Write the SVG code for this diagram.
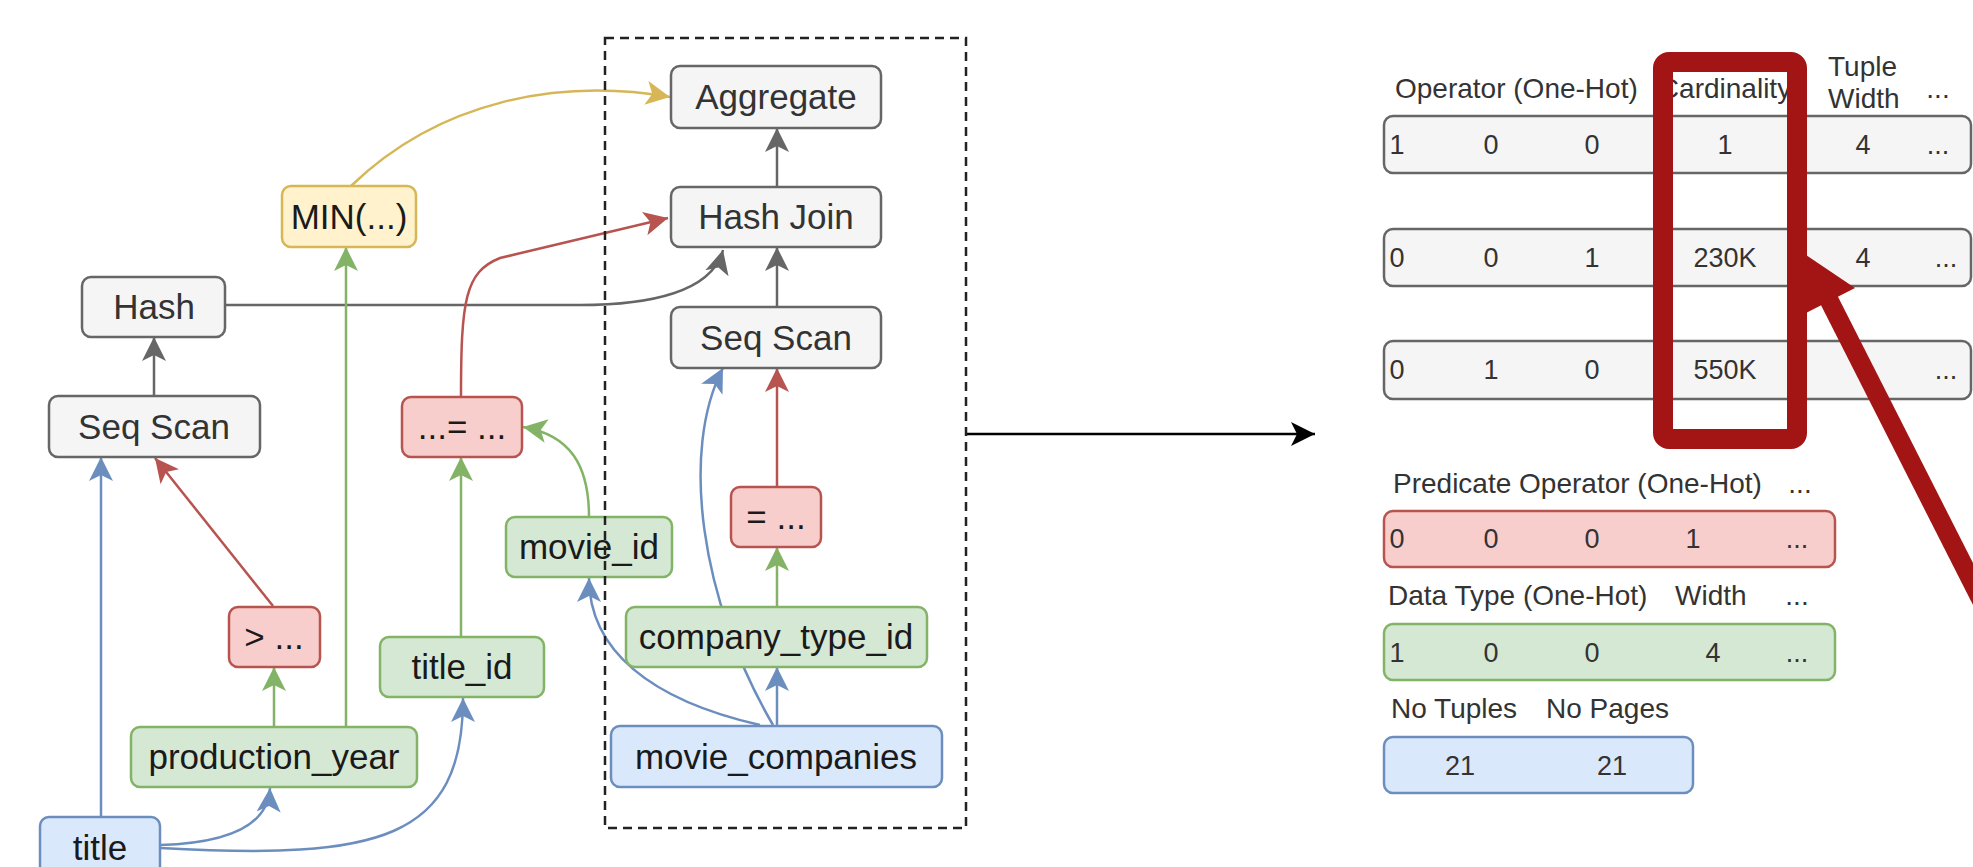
<svg xmlns="http://www.w3.org/2000/svg" width="1973" height="867" viewBox="0 0 1973 867">
<defs>
<style>
.box{stroke-width:2.5}
.g{fill:#f5f5f5;stroke:#666666}
.y{fill:#fff2cc;stroke:#d6b656}
.r{fill:#f8cecc;stroke:#b85450}
.gr{fill:#d5e8d4;stroke:#82b366}
.b{fill:#dae8fc;stroke:#6c8ebf}
text{font-family:"Liberation Sans",Arial,Helvetica,sans-serif}
.t{font-size:35px;text-anchor:middle;fill:#1a1a1a}
.tg{fill:#333333}
.v{font-size:27px;text-anchor:middle;fill:#333333}
.h{font-size:28px;fill:#333333}
.e{fill:none;stroke-width:2.5}
.eg{stroke:#666666}
.er{stroke:#b85450}
.egr{stroke:#82b366}
.eb{stroke:#6c8ebf}
.ey{stroke:#d6b656}
</style>
<marker id="mG" viewBox="0 0 24 24" refX="24" refY="12" markerWidth="24" markerHeight="24" markerUnits="userSpaceOnUse" orient="auto"><path d="M0,0 L24,12 L0,24 L6,12 z" fill="#666666"/></marker>
<marker id="mR" viewBox="0 0 24 24" refX="24" refY="12" markerWidth="24" markerHeight="24" markerUnits="userSpaceOnUse" orient="auto"><path d="M0,0 L24,12 L0,24 L6,12 z" fill="#b85450"/></marker>
<marker id="mGr" viewBox="0 0 24 24" refX="24" refY="12" markerWidth="24" markerHeight="24" markerUnits="userSpaceOnUse" orient="auto"><path d="M0,0 L24,12 L0,24 L6,12 z" fill="#82b366"/></marker>
<marker id="mB" viewBox="0 0 24 24" refX="24" refY="12" markerWidth="24" markerHeight="24" markerUnits="userSpaceOnUse" orient="auto"><path d="M0,0 L24,12 L0,24 L6,12 z" fill="#6c8ebf"/></marker>
<marker id="mY" viewBox="0 0 24 24" refX="24" refY="12" markerWidth="24" markerHeight="24" markerUnits="userSpaceOnUse" orient="auto"><path d="M0,0 L24,12 L0,24 L6,12 z" fill="#d6b656"/></marker>
<marker id="mK" viewBox="0 0 24 24" refX="24" refY="12" markerWidth="24" markerHeight="24" markerUnits="userSpaceOnUse" orient="auto"><path d="M0,0 L24,12 L0,24 L6,12 z" fill="#000000"/></marker>
</defs>
<rect width="1973" height="867" fill="#ffffff"/>

<g id="connectors">
  <path class="e eg" d="M777,187 L777,128" marker-end="url(#mG)"/>
  <path class="e eg" d="M777,307 L777,247" marker-end="url(#mG)"/>
  <path class="e eg" d="M154,396 L154,337" marker-end="url(#mG)"/>
  <path class="e eg" d="M226,305 L580,305 C650,305 712,292 723,250" marker-end="url(#mG)"/>
  <path class="e ey" d="M351,186 C440,100 560,78 670,97" marker-end="url(#mY)"/>
  <path class="e er" d="M461,397 C461,300 465,272 500,258 L668,218" marker-end="url(#mR)"/>
  <path class="e er" d="M273,606 L155,458" marker-end="url(#mR)"/>
  <path class="e er" d="M777,487 L777,368" marker-end="url(#mR)"/>
  <path class="e egr" d="M274,727 L274,667" marker-end="url(#mGr)"/>
  <path class="e egr" d="M346,727 L346,247" marker-end="url(#mGr)"/>
  <path class="e egr" d="M461,637 L461,457" marker-end="url(#mGr)"/>
  <path class="e egr" d="M589,517 C589,465 570,435 523,427" marker-end="url(#mGr)"/>
  <path class="e egr" d="M777,607 L777,547" marker-end="url(#mGr)"/>
  <path class="e eb" d="M101,817 L101,457" marker-end="url(#mB)"/>
  <path class="e eb" d="M160,845 C230,843 268,825 270,788" marker-end="url(#mB)"/>
  <path class="e eb" d="M160,848 C380,860 463,840 463,698" marker-end="url(#mB)"/>
  <path class="e eb" d="M760,725 C650,700 589,650 589,578" marker-end="url(#mB)"/>
  <path class="e eb" d="M773,725 C700,600 680,450 723,368" marker-end="url(#mB)"/>
  <path class="e eb" d="M777,725 L777,667" marker-end="url(#mB)"/>
  <path class="e" stroke="#000000" d="M966,434 L1315,434" marker-end="url(#mK)"/>
</g>

<g id="node-aggregate"><rect class="box g" x="671" y="66" width="210" height="62" rx="9"/><text class="t tg" x="776" y="109">Aggregate</text></g>
<g id="node-hashjoin"><rect class="box g" x="671" y="187" width="210" height="60" rx="9"/><text class="t tg" x="776" y="229">Hash Join</text></g>
<g id="node-seqscan-r"><rect class="box g" x="671" y="307" width="210" height="61" rx="9"/><text class="t tg" x="776" y="350">Seq Scan</text></g>
<g id="node-hash"><rect class="box g" x="82" y="277" width="143" height="60" rx="9"/><text class="t tg" x="154" y="319">Hash</text></g>
<g id="node-seqscan-l"><rect class="box g" x="49" y="396" width="211" height="61" rx="9"/><text class="t tg" x="154" y="439">Seq Scan</text></g>
<g id="node-min"><rect class="box y" x="282" y="186" width="134" height="61" rx="9"/><text class="t" x="349" y="229">MIN(...)</text></g>
<g id="node-eq1"><rect class="box r" x="402" y="397" width="120" height="60" rx="9"/><text class="t" x="462" y="439">...= ...</text></g>
<g id="node-movieid"><rect class="box gr" x="506" y="517" width="166" height="60" rx="9"/><text class="t" x="589" y="559">movie_id</text></g>
<g id="node-eq2"><rect class="box r" x="731" y="487" width="90" height="60" rx="9"/><text class="t" x="776" y="529">= ...</text></g>
<g id="node-gt"><rect class="box r" x="229" y="607" width="91" height="60" rx="9"/><text class="t" x="274" y="649">&gt; ...</text></g>
<g id="node-titleid"><rect class="box gr" x="380" y="637" width="164" height="60" rx="9"/><text class="t" x="462" y="679">title_id</text></g>
<g id="node-companytypeid"><rect class="box gr" x="626" y="607" width="301" height="60" rx="9"/><text class="t" x="776" y="649">company_type_id</text></g>
<g id="node-productionyear"><rect class="box gr" x="131" y="727" width="286" height="60" rx="9"/><text class="t" x="274" y="769">production_year</text></g>
<g id="node-moviecompanies"><rect class="box b" x="611" y="726" width="331" height="61" rx="9"/><text class="t" x="776" y="769">movie_companies</text></g>
<g id="node-title"><rect class="box b" x="40" y="817" width="120" height="60" rx="9"/><text class="t" x="100" y="860">title</text></g>

<g id="subplan-box"><rect x="605" y="38" width="361" height="790" fill="none" stroke="#222222" stroke-width="2.5" stroke-dasharray="9 6"/></g>

<g id="feature-panel">
  <g id="operator-header">
    <text class="h" x="1395" y="98">Operator (One-Hot)</text>
    <text class="h" x="1725" y="98" text-anchor="middle">Cardinality</text>
    <text class="h" x="1828" y="76">Tuple</text>
    <text class="h" x="1828" y="108">Width</text>
    <text class="h" x="1938" y="98" text-anchor="middle">...</text>
  </g>
  <g id="op-row1"><rect class="box g" x="1384" y="116" width="587" height="57" rx="9"/>
    <text class="v" x="1397" y="154">1</text><text class="v" x="1491" y="154">0</text><text class="v" x="1592" y="154">0</text><text class="v" x="1725" y="154">1</text><text class="v" x="1863" y="154">4</text><text class="v" x="1938" y="154">...</text></g>
  <g id="op-row2"><rect class="box g" x="1384" y="229" width="587" height="57" rx="9"/>
    <text class="v" x="1397" y="267">0</text><text class="v" x="1491" y="267">0</text><text class="v" x="1592" y="267">1</text><text class="v" x="1725" y="267">230K</text><text class="v" x="1863" y="267">4</text><text class="v" x="1946" y="267">...</text></g>
  <g id="op-row3"><rect class="box g" x="1384" y="341" width="587" height="58" rx="9"/>
    <text class="v" x="1397" y="379">0</text><text class="v" x="1491" y="379">1</text><text class="v" x="1592" y="379">0</text><text class="v" x="1725" y="379">550K</text><text class="v" x="1946" y="379">...</text></g>

  <g id="predicate-header"><text class="h" x="1393" y="493">Predicate Operator (One-Hot)</text><text class="h" x="1800" y="493" text-anchor="middle">...</text></g>
  <g id="predicate-row"><rect class="box r" x="1384" y="511" width="451" height="56" rx="9"/>
    <text class="v" x="1397" y="548">0</text><text class="v" x="1491" y="548">0</text><text class="v" x="1592" y="548">0</text><text class="v" x="1693" y="548">1</text><text class="v" x="1797" y="548">...</text></g>

  <g id="datatype-header"><text class="h" x="1388" y="605">Data Type (One-Hot)</text><text class="h" x="1675" y="605">Width</text><text class="h" x="1797" y="605" text-anchor="middle">...</text></g>
  <g id="datatype-row"><rect class="box gr" x="1384" y="624" width="451" height="56" rx="9"/>
    <text class="v" x="1397" y="662">1</text><text class="v" x="1491" y="662">0</text><text class="v" x="1592" y="662">0</text><text class="v" x="1713" y="662">4</text><text class="v" x="1797" y="662">...</text></g>

  <g id="table-header"><text class="h" x="1391" y="718">No Tuples</text><text class="h" x="1546" y="718">No Pages</text></g>
  <g id="table-row"><rect class="box b" x="1384" y="737" width="309" height="56" rx="9"/>
    <text class="v" x="1460" y="775">21</text><text class="v" x="1612" y="775">21</text></g>

  <g id="highlight">
    <line x1="2010" y1="657" x2="1829" y2="300" stroke="#a31515" stroke-width="19"/>
    <polygon points="1806,255 1855,288 1804,314" fill="#a31515"/>
    <rect x="1663" y="62" width="134" height="377" rx="6" fill="none" stroke="#a31515" stroke-width="20"/>
  </g>
</g>
</svg>
